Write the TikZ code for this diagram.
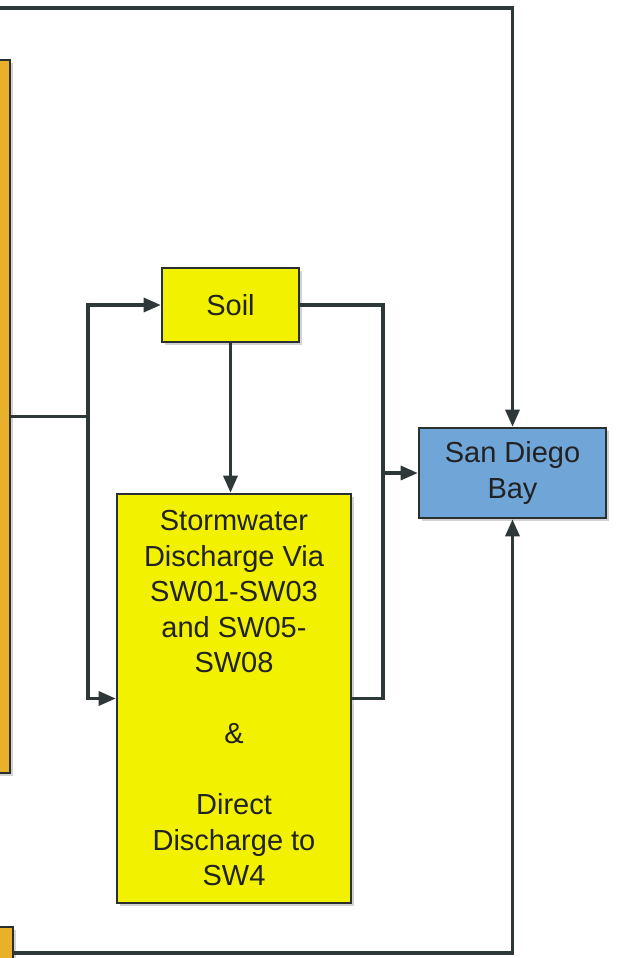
\documentclass[tikz,border=0pt]{standalone}
\usepackage{fontspec}
\setmainfont{Liberation Sans}
\usetikzlibrary{arrows.meta,shadows}
\definecolor{orangefill}{HTML}{E8B02B}
\definecolor{yellowfill}{HTML}{F2F200}
\definecolor{bluefill}{HTML}{70A5D8}
\definecolor{boxline}{HTML}{2A2F2F}
\definecolor{lineclr}{HTML}{2F3838}
\definecolor{txt}{HTML}{222222}
\begin{document}
\begin{tikzpicture}[x=1pt,y=-1pt,
  box/.style={draw=boxline, line width=2.6pt,
    drop shadow={shadow xshift=3pt,shadow yshift=-3pt,opacity=0.35},
    inner sep=0pt, align=center, text=txt,
    font=\fontsize{29}{35.5}\selectfont},
  conn/.style={draw=lineclr, line width=3.2pt},
  arr/.style={conn, -{Triangle[length=17pt,width=14pt]}}
]
\clip (0,0) rectangle (617,958);
\fill[white] (0,0) rectangle (617,958);

% sources (cut off at the left edge)
\node[box, fill=orangefill, minimum width=40pt, minimum height=713pt] (src1) at (-10,416.5) {};
\node[box, fill=orangefill, minimum width=46pt, minimum height=66pt] (src2) at (-10,960) {};

% boxes
\node[box, fill=yellowfill, minimum width=137pt, minimum height=74pt] (soil) at (230.5,305) {Soil};
\node[box, fill=yellowfill, minimum width=234pt, minimum height=409pt] (storm) at (234,698.5)
  {Stormwater\\Discharge Via\\SW01-SW03\\and SW05-\\SW08\\[35.5pt]\&\\[35.5pt]Direct\\Discharge to\\SW4};
\node[box, fill=bluefill, minimum width=187pt, minimum height=90pt] (bay) at (512.5,473) {San Diego\\Bay};

% connectors
\coordinate (tl) at (-5,8);
\draw[arr] (tl) -| (bay.north);

\coordinate (j) at (88,416.5);
\draw[conn] (src1.east) -- (j);
\draw[arr] (j) |- (soil.west);
\draw[arr] (j) |- (storm.west);

\draw[arr] (soil.south) -- (soil.south |- storm.north);

\coordinate (kb) at (383,698.5);
\draw[conn] (soil.east) -| (kb) -- (storm.east);
\draw[arr] (kb |- bay.west) -- (bay.west);

\coordinate (bl) at (13,953);
\draw[arr] (bl) -| (bay.south);
\end{tikzpicture}
\end{document}
